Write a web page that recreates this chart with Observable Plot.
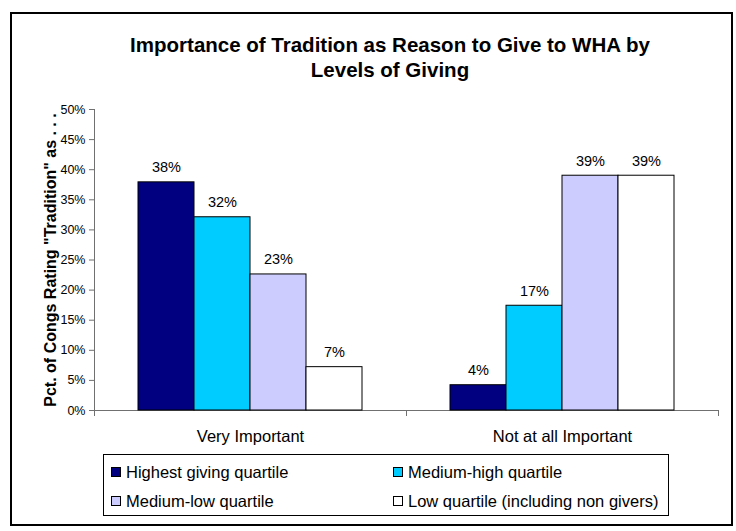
<!DOCTYPE html>
<html><head><meta charset="utf-8">
<script src="https://cdn.jsdelivr.net/npm/d3@7"></script>
<script src="https://cdn.jsdelivr.net/npm/@observablehq/plot@0.6"></script>
<style>
html,body{margin:0;padding:0;background:#fff;}
#wrap{position:relative;width:736px;height:531px;overflow:hidden;font-family:Arial,"Liberation Sans",sans-serif;color:#000;background:#fff;}
#border{position:absolute;left:10px;top:12px;width:723px;height:514px;border:2px solid #000;box-sizing:border-box;}
#title{position:absolute;left:90px;top:32px;width:600px;text-align:center;font-weight:bold;font-size:20.5px;line-height:25px;}
#chart{position:absolute;left:0;top:95px;}
#chart g[aria-label="y-axis label"] text{font-weight:bold;font-size:16px;}
#legend{position:absolute;left:103px;top:454px;width:566px;height:62px;border:1px solid #000;box-sizing:border-box;}
.item{position:absolute;display:flex;align-items:center;height:20px;font-size:16.5px;line-height:20px;white-space:nowrap;}
.sw{width:10px;height:10px;border:1px solid #000;box-sizing:border-box;margin-right:5px;}
</style>
</head><body>
<div id="wrap">
  <div id="border"></div>
  <div id="title"></div>
  <div id="chart"></div>
  <div id="legend"></div>
</div>
<script>
const titleLines = ["Importance of Tradition as Reason to Give to WHA by", "Levels of Giving"];
const yTitle = "Pct. of Congs Rating \"Tradition\" as . . .";
const categories = ["Very Important", "Not at all Important"];
const series = ["Highest giving quartile", "Medium-high quartile", "Medium-low quartile", "Low quartile (including non givers)"];
const veryImportant = [37.9, 32.1, 22.6, 7.2];
const notAtAllImportant = [4.2, 17.4, 39.0, 39.0];
const yTicks = [0, 5, 10, 15, 20, 25, 30, 35, 40, 45, 50];
const colors = ["#000080", "#00CCFF", "#CCCCFF", "#FFFFFF"];

const data = [];
[veryImportant, notAtAllImportant].forEach((vals, ci) => {
  vals.forEach((v, si) => data.push({category: categories[ci], series: series[si], value: v}));
});

document.getElementById("title").innerHTML = titleLines.join("<br>");

const axisColor = "#707070";
const chart = Plot.plot({
  width: 736,
  height: 355,
  marginTop: 14,
  marginBottom: 40,
  marginLeft: 94,
  marginRight: 18,
  style: {fontFamily: "Arial, 'Liberation Sans', sans-serif", fontSize: "12.5px", background: "transparent", overflow: "visible", color: "#000"},
  fx: {domain: categories, padding: 0, label: null},
  x: {domain: series, paddingInner: 0, paddingOuter: 0.75, axis: null},
  y: {domain: [0, 50]},
  color: {domain: series, range: colors},
  marks: [
    Plot.ruleY([0], {stroke: axisColor}),
    Plot.frame({anchor: "left", facetAnchor: "left", stroke: axisColor}),
    Plot.frame({anchor: "left", insetTop: 301, insetBottom: -5, stroke: axisColor}),
    Plot.frame({anchor: "right", facetAnchor: "right", insetTop: 301, insetBottom: -5, stroke: axisColor}),
    Plot.barY(data, {fx: "category", x: "series", y: "value", fill: "series", stroke: "#000", strokeWidth: 1}),
    Plot.text(data, {fx: "category", x: "series", y: "value", text: d => Math.round(d.value) + "%", lineAnchor: "bottom", dy: -10, fontSize: 14.5, fill: "#000"}),
    Plot.axisY({ticks: yTicks, tickFormat: d => d + "%", tickSize: 5, tickPadding: 4, fontSize: 12.5, stroke: axisColor, label: yTitle, labelArrow: "none", labelAnchor: "center", labelOffset: 50}),
    Plot.axisFx({anchor: "bottom", tickSize: 0, tickPadding: 20, fontSize: 16.5, label: null})
  ]
});
document.getElementById("chart").appendChild(chart);

const legend = document.getElementById("legend");
const pos = [[7, 7], [289, 7], [7, 36], [289, 36]];
series.forEach((s, i) => {
  const it = document.createElement("div");
  it.className = "item";
  it.style.left = pos[i][0] + "px";
  it.style.top = pos[i][1] + "px";
  const sw = document.createElement("div");
  sw.className = "sw";
  sw.style.background = colors[i];
  const tx = document.createElement("span");
  tx.textContent = s;
  it.appendChild(sw);
  it.appendChild(tx);
  legend.appendChild(it);
});
</script>
</body></html>
